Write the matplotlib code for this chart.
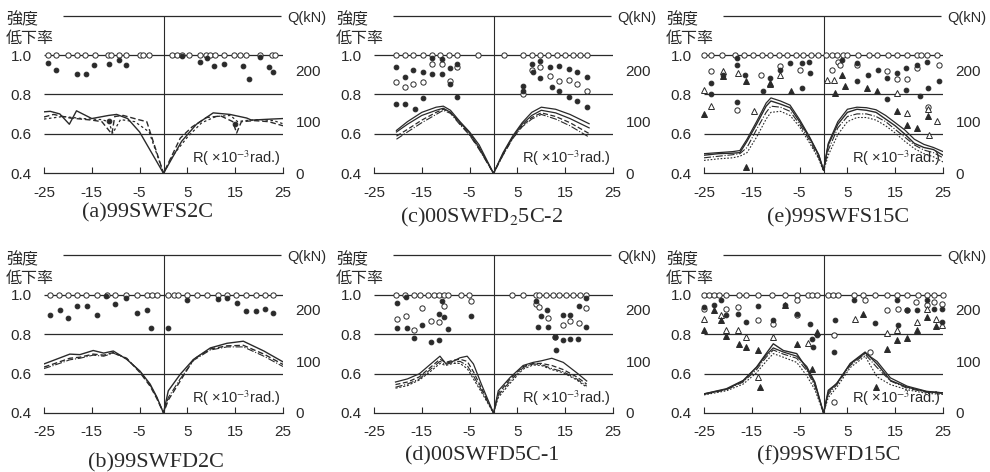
import matplotlib
matplotlib.use("Agg")
import matplotlib.pyplot as plt

plt.rcParams["font.family"] = ["Liberation Sans", "Noto Sans CJK JP", "DejaVu Sans"]
plt.rcParams["mathtext.fontset"] = "stix"

INK = "#2a2a2a"
Q_TOP = 229 / 0.6 * 0.8   # right axis: 0 kN at 0.4, ~229 kN at 1.0

XTICKS = [-25, -15, -5, 5, 15, 25]
YTICKS = [0.4, 0.6, 0.8, 1.0]
QTICKS = [0, 100, 200]
TITLES = ["(a)99SWFS2C", "(b)99SWFD2C", "(c)00SWFD$_2$5C-2",
          "(d)00SWFD5C-1", "(e)99SWFS15C", "(f)99SWFD15C"]

# ---- (a) 99SWFS2C
A_OPEN_X = [-24.2, -22.4, -20.0, -18.2, -16.5, -14.4, -11.6, -10.9, -9.3, -7.9, -4.9, -4.2, -3.0,
            1.7, 2.8, 3.8, 5.4, 7.7, 8.9, 9.8, 10.8, 12.6, 14.7, 15.9, 17.3, 20.1, 22.7, 23.4]
A_DOT_X = [-24.2, -22.4, -18.2, -16.3, -14.5, -11.4, -9.3, -7.9, 3.8, 7.7, 9.2, 10.5, 12.6,
           16.6, 17.8, 20.1, 22.0, 23.0, -11.4, 15.0]
A_DOT_Y = [0.961, 0.924, 0.903, 0.902, 0.949, 0.954, 0.975, 0.949, 0.995, 0.963, 0.983, 0.944,
           0.953, 0.944, 0.876, 0.992, 0.941, 0.915, 0.666, 0.649]
A_SOLID_X = [-25, -23.7, -21.7, -19.7, -18.2, -15, -11.5, -9.8, -7.5, -5, 0, 3.8, 6.9, 10.4,
             13.9, 17.4, 18.4, 22.6, 25]
A_SOLID_Q = [119, 120, 115, 95, 121, 106, 112, 114, 106, 80, 0, 62, 95, 117, 114, 107, 103, 105, 106]
A_DASH_X = [-25, -23, -19.5, -15, -12.9, -10.8, -10.2, -8.4, -5.3, -3.5, 0, 3.5, 6, 9, 12,
            14.5, 15.3, 16.3, 19, 22, 25]
A_DASH_Q = [109, 114, 107, 103, 100, 76, 110, 112, 104, 100, 0, 68, 90, 108, 111, 100, 78, 100,
            102, 100, 92]
A_DOTL_X = [-25, -21, -17, -13, -11.5, -10.6, -9, -6, -3, 0, 2, 5, 8, 11, 14, 15.5, 17, 20, 23, 25]
A_DOTL_Q = [105, 110, 106, 104, 100, 78, 104, 100, 80, 0, 35, 70, 98, 110, 112, 100, 102, 104, 102, 96]

# ---- (b) 99SWFD2C
B_OPEN_X = [-23.8, -21.9, -20.0, -18.1, -16.3, -14.0, -11.9, -10.2, -7.9, -5.6, -3.5, -2.5, -1.4,
            1.0, 2.1, 3.1, 4.9, 7.0, 9.2, 11.5, 13.3, 15.2, 17.3, 19.4, 21.3, 23.0]
B_DOT_X = [-23.8, -21.7, -20.0, -18.1, -16.1, -14.0, -12.1, -10.2, -7.9, -5.6, -3.5, -2.7, 1.0,
           4.9, 11.5, 13.3, 15.3, 17.3, 19.4, 21.3, 23.0]
B_DOT_Y = [0.897, 0.922, 0.88, 0.943, 0.943, 0.897, 0.993, 0.955, 0.983, 0.905, 0.922, 0.83,
           0.833, 0.972, 0.98, 0.983, 0.958, 0.917, 0.917, 0.927, 0.908]
B_LX = [-25, -23, -19.6, -17.5, -14.7, -12.5, -10.5, -7.7, -4.9, -2.8, -1.4, 0, 1.0, 3.5, 6.3,
        9.8, 13.3, 16.7, 21, 25]
B_Q1 = [95, 102, 114, 113, 121, 116, 120, 104, 81, 56, 31, 0, 43, 75, 104, 126, 135, 139, 120, 99]
B_Q2 = [89, 95, 106, 108, 114, 112, 117, 106, 78, 52, 28, 0, 25, 62, 104, 124, 130, 131, 114, 94]
B_Q3 = [86, 92, 103, 106, 112, 110, 116, 105, 80, 54, 30, 0, 30, 66, 102, 122, 128, 128, 110, 90]

# ---- (c) 00SWFD25C-2
C_OPEN_X = [-20.3, -18.5, -16.8, -14.8, -12.9, -11.2, -9.4, -7.7, -3.2, 2.2, 6.2, 8.0, 9.7,
            11.5, 13.2, 15.0, 16.7, 18.1, 19.5]
C_DOT_X = [-20.3, -18.5, -16.8, -14.8, -12.9, -12.9, -10.8, -10.8, -9.1, -7.7, -20.3, -18.5,
           -16.4, -14.7, -7.7, -9.1, 8.0, 9.7, 9.7, 11.8, 13.6, 15.7, 17.4, 19.5, 12.2, 13.8,
           15.7, 17.5, 19.5, 6.2, 6.2, 8.2]
C_DOT_Y = [0.94, 0.887, 0.923, 0.915, 0.903, 0.983, 0.978, 0.903, 0.932, 0.953, 0.75, 0.753,
           0.728, 0.783, 0.787, 0.853, 0.953, 0.97, 0.883, 0.937, 0.945, 0.928, 0.912, 0.887,
           0.837, 0.815, 0.787, 0.767, 0.737, 0.845, 0.82, 0.912]
C_RING_X = [-20.3, -18.5, -16.8, -14.8, -12.9, -10.8, -9.1, -7.7, 6.2, 8.0, 9.7, 11.8, 13.8,
            15.7, 17.5, 19.5]
C_RING_Y = [0.862, 0.837, 0.853, 0.862, 0.957, 0.957, 0.87, 0.937, 0.803, 0.925, 0.94, 0.895,
            0.87, 0.873, 0.853, 0.82]
C_LX = [-20.3, -18, -15, -12, -10.5, -9, -7, -5, -3, 0, 2, 4, 6, 8, 10, 13, 16, 20]
C_Q1 = [83, 100, 118, 128, 130, 122, 100, 80, 55, 0, 40, 72, 98, 118, 128, 124, 114, 96]
C_Q2 = [80, 95, 112, 122, 126, 118, 98, 78, 50, 0, 38, 70, 95, 112, 122, 117, 106, 88]
C_Q3 = [72, 85, 103, 118, 124, 118, 96, 75, 48, 0, 36, 68, 92, 108, 117, 110, 98, 77]
C_Q4 = [66, 80, 98, 114, 122, 116, 94, 74, 46, 0, 35, 67, 90, 105, 114, 105, 92, 70]

# ---- (d) 00SWFD5C-1
D_OPEN_X = [-20.5, -18.6, -16.7, -15.3, -13.8, -12.4, -11.4, -10.3, -9.6, -6.8, -5.1, 3.9, 6.1,
            8.9, 9.6, 11.0, 12.4, 13.8, 15.2, 16.6, 18.0, 19.4]
D_DOT_X = [-20.2, -18.4, -20.2, -18.2, -16.6, -14.9, -13.1, -11.5, -11.4, -10.7, -10.3, -9.6,
           -4.7, 8.9, 9.9, 11.2, 9.3, 11.4, 12.8, 13.1, 14.5, 14.5, 15.9, 16.1, 17.7, 17.9, 19.3, 19.4]
D_DOT_Y = [0.956, 0.987, 0.83, 0.83, 0.78, 0.844, 0.76, 0.90, 0.771, 0.97, 0.886, 0.827, 0.89,
           0.97, 0.894, 0.92, 0.835, 0.835, 0.785, 0.718, 0.897, 0.771, 0.897, 0.776, 0.776,
           0.945, 0.983, 0.835]
D_RING_X = [-20.2, -18.4, -16.7, -14.9, -13.1, -11.4, -10.3, -4.7, 8.9, 9.6, 11.4, 12.9, 14.5,
            16.1, 17.9, 19.4]
D_RING_Y = [0.877, 0.894, 0.822, 0.933, 0.869, 0.86, 0.945, 0.966, 0.953, 0.94, 0.88, 0.788,
            0.844, 0.869, 0.855, 0.933]
D_LX = [-20.5, -18, -15.5, -13.5, -11.2, -10, -8.5, -7, -5.5, -4.2, -2.5, 0, 1, 3.5, 6.2, 8.3,
        10, 12.2, 14.6, 17.4, 19.5]
D_Q1 = [60, 66, 76, 92, 110, 96, 100, 107, 110, 95, 55, 0, 43, 69, 92, 98, 101, 106, 98, 78, 62]
D_Q2 = [55, 60, 70, 86, 104, 98, 102, 104, 100, 80, 48, 0, 38, 66, 90, 96, 96, 92, 84, 70, 56]
D_Q3 = [50, 56, 66, 82, 100, 94, 98, 100, 92, 72, 44, 0, 34, 62, 88, 95, 94, 86, 80, 66, 52]
D_Q4 = [48, 53, 64, 78, 96, 92, 96, 96, 86, 66, 40, 0, 30, 58, 85, 93, 92, 84, 78, 64, 50]

# ---- (e) 99SWFS15C
E_OPEN_X = [-25, -23.6, -21.2, -18.6, -16.6, -14.7, -12.9, -11.2, -9.4, -7.6, -5.8, -4.2, -2.6,
            -1.2, 0.6, 1.8, 2.9, 4.1, 5.0, 7.3, 9.5, 11.2, 13.4, 15.3, 17.4, 19.5, 20.3, 21.6, 23.8]
E_DOT_X = [-23.5, -23.5, -21.0, -18.2, -18.2, -16.5, -18.2, -12.6, -11.2, -9.1, -7.0, -4.6, -4.6,
           -2.8, -3.0, 3.8, 7.0, 7.0, 9.4, 11.5, 13.3, 13.3, 15.4, 17.3, 17.3, 19.5, 20.2, 21.6,
           21.9, 24.1]
E_DOT_Y = [0.858, 0.80, 0.90, 0.95, 0.983, 0.90, 0.762, 0.82, 0.883, 0.925, 0.962, 0.962, 0.833,
           0.908, 0.967, 0.975, 0.958, 0.867, 0.90, 0.925, 0.883, 0.775, 0.908, 0.933, 0.822,
           0.95, 0.792, 0.967, 0.833, 0.867]
E_TRI_X = [-25, -21, -16.3, -16.3, -11.2, -6.9, 2.4, 3.8, 4.5, 9.1, 11.2, 15.4, 17.5, 19.5, 21.9]
E_TRI_Y = [0.70, 0.895, 0.867, 0.433, 0.858, 0.817, 0.808, 0.90, 0.842, 0.833, 0.82, 0.717,
           0.645, 0.628, 0.692]
E_OTRI_X = [-25, -23.5, -21, -17.9, -14.5, -11.2, -9.1, 0.7, 2.1, 15.4, 17.5, 21.9, 22.1, 23.7]
E_OTRI_Y = [0.822, 0.742, 0.917, 0.908, 0.717, 0.855, 0.90, 0.875, 0.875, 0.808, 0.708, 0.728,
            0.592, 0.667]
E_RING_X = [-23.5, -18.2, -13.0, -9.1, -4.9, 1.7, 3.1, 3.5, 7.0, 13.3, 15.4, 17.5, 19.5, 21.9, 24.1]
E_RING_Y = [0.917, 0.722, 0.90, 0.942, 0.925, 0.925, 0.967, 0.95, 0.95, 0.917, 0.878, 0.878,
            0.933, 0.738, 0.95]
E_LX = [-25, -22, -19, -17.5, -16, -14, -12, -11, -9, -7, -5, -3, -1, 0, 1, 3, 5, 7, 9, 11, 13,
        15, 17, 19, 21, 23, 25]
E_Q1 = [35, 38, 39, 40, 62, 95, 130, 140, 134, 127, 100, 70, 35, 6, 55, 95, 118, 124, 122, 118,
        105, 92, 76, 58, 50, 46, 35]
E_Q2 = [38, 40, 42, 44, 66, 100, 136, 146, 140, 132, 104, 72, 36, 6, 58, 100, 124, 128, 127, 123,
        112, 98, 84, 66, 56, 50, 42]
E_Q3 = [30, 33, 36, 38, 50, 85, 118, 130, 128, 120, 95, 65, 30, 6, 45, 88, 110, 115, 115, 110,
        100, 85, 70, 55, 45, 40, 30]
E_Q4 = [25, 28, 30, 33, 40, 70, 105, 118, 120, 112, 90, 60, 28, 4, 35, 75, 100, 108, 108, 103,
        92, 78, 62, 48, 38, 32, 22]

# ---- (f) 99SWFD15C
F_OPEN_X = [-25, -23.9, -23.0, -21.9, -20.3, -17.7, -16.3, -13.7, -10.7, -8.1, -5.6, -3.2, -2.5,
            -1.4, 1.0, 1.9, 3.1, 6.3, 8.3, 10.8, 13.3, 15.4, 17.5, 19.7, 21.7, 23.1, 25]
F_DOT_X = [-24.9, -23, -21.4, -20.3, -17.9, -16.3, -13.7, -10.5, -8.1, -5.6, -2.8, -2.5, -1.4,
           2.4, 2.1, 6.3, 10.8, 15.4, 15.5, 17.5, 19.6, 21.7, 23.1, 24.8, 24.8, -2.1]
F_DOT_Y = [0.937, 0.949, 0.971, 0.895, 0.904, 0.861, 0.941, 0.87, 0.946, 0.90, 0.853, 0.777,
           0.794, 0.87, 0.71, 0.975, 0.856, 0.971, 0.845, 0.92, 0.92, 0.971, 0.929, 0.929, 0.861, 0.735]
F_TRI_X = [-24.9, -23, -21.4, -20.3, -17.7, -16.3, -13.7, -13.3, -8.1, -5.6, -2.5, -1.4, 8.3,
           11.0, 13.3, 15.4, 17.5, 19.6, 21.7, 23.6]
F_TRI_Y = [0.823, 0.921, 0.87, 0.79, 0.752, 0.735, 0.718, 0.532, 0.946, 0.752, 0.625, 0.81,
           0.904, 0.532, 0.726, 0.768, 0.782, 0.819, 0.887, 0.84]
F_OTRI_X = [-24.9, -21.4, -20.3, -17.9, -16.3, -13.7, -10.5, -3.2, 6.6, 13.3, 15.4, 19.6, 21.7,
            23.6, 24.8]
F_OTRI_Y = [0.878, 0.895, 0.819, 0.819, 0.785, 0.583, 0.785, 0.755, 0.878, 0.806, 0.819, 0.861,
            0.929, 0.878, 0.845]
F_RING_X = [-24.9, -20.3, -17.9, -13.7, -10.5, -5.6, -5.6, 2.1, 8.7, 9.8, 13.3, 15.5, 17.5, 19.4,
            21.7, 23.1, 24.8, 2.1]
F_RING_Y = [0.929, 0.929, 0.937, 0.87, 0.853, 0.971, 0.895, 0.794, 0.971, 0.71, 0.92, 0.929, 0.92,
            0.963, 0.946, 0.963, 0.954, 0.456]
F_LX = [-25, -20.3, -16.8, -14, -12, -10.5, -8.4, -5.6, -3.5, -1.8, 0, 1, 2.8, 5.6, 8.7, 11.2,
        14, 17.5, 21.6, 25]
F_Q1 = [37, 47, 63, 89, 115, 134, 121, 115, 86, 57, 0, 44, 57, 96, 118, 95, 63, 50, 41, 39]
F_Q2 = [37, 46, 62, 88, 112, 126, 118, 110, 90, 60, 0, 40, 58, 95, 116, 100, 68, 52, 42, 39]
F_Q3 = [36, 45, 60, 84, 108, 122, 114, 106, 82, 52, 0, 36, 55, 92, 114, 88, 62, 48, 40, 38]
F_Q4 = [35, 43, 56, 78, 100, 115, 108, 98, 72, 45, 0, 30, 50, 88, 110, 70, 55, 45, 38, 36]

W, H = 990, 472
fig = plt.figure(figsize=(W / 100, H / 100), dpi=100)
fig.patch.set_facecolor("white")

COL_LEFT = [44, 374, 704]          # px, left edge of each axes
ROW_BOT = [173.3, 413]             # px from top, y=0.4 line
AX_W, AX_H = 239, 157.7


def panel(col, row, title, title_xy, open_x, dot_x, dot_y, lines,
          ring=None, tri=None, otri=None):
    ax = fig.add_axes([COL_LEFT[col] / W, 1 - ROW_BOT[row] / H, AX_W / W, AX_H / H])
    ax.set_xlim(-25, 25)
    ax.set_ylim(0.4, 1.2)
    for s in ["top", "left", "right"]:
        ax.spines[s].set_visible(False)
    ax.spines["bottom"].set_color(INK)
    ax.spines["bottom"].set_linewidth(0.9)
    ax.set_xticks(XTICKS)
    ax.set_xticklabels([str(t) for t in XTICKS])
    ax.set_yticks(YTICKS)
    ax.set_yticklabels([f"{t:.1f}" for t in YTICKS])
    ax.tick_params(axis="x", direction="in", length=4, width=0.8, color=INK,
                   labelsize=11, pad=9, labelcolor=INK)
    ax.tick_params(axis="y", length=0, labelsize=11, pad=9, labelcolor=INK)

    ax.hlines([0.6, 0.8, 1.0], -25, 25, color=INK, lw=0.9, zorder=1)
    ax.hlines(1.2, -21, 24.5, color=INK, lw=0.9, clip_on=False, zorder=1)
    ax.vlines(0, 0.4, 1.2, color=INK, lw=0.8, clip_on=False, zorder=1)

    mk = dict(ls="none", clip_on=False, zorder=3, mew=0.7)
    ax.plot(open_x, [1.0] * len(open_x), marker="o", ms=3.8, mfc="white", mec=INK, **mk)
    if ring is not None:
        ax.plot(ring[0], ring[1], marker="o", ms=3.8, mfc="white", mec=INK, **mk)
    if otri is not None:
        ax.plot(otri[0], otri[1], marker="^", ms=4.0, mfc="white", mec=INK, **mk)
    if tri is not None:
        ax.plot(tri[0], tri[1], marker="^", ms=4.0, mfc=INK, mec=INK, **mk)
    ax.plot(dot_x, dot_y, marker="o", ms=3.4, mfc=INK, mec=INK, **mk)

    tw = ax.twinx()
    tw.set_ylim(0, Q_TOP)
    for s in tw.spines.values():
        s.set_visible(False)
    tw.set_yticks(QTICKS)
    tw.set_yticklabels([str(t) for t in QTICKS])
    tw.tick_params(axis="y", length=0, labelsize=11, pad=9, labelcolor=INK)
    for x, q, ls, lw in lines:
        tw.plot(x, q, color=INK, ls=ls, lw=lw, zorder=2)

    ax.text(24.5, 0.425, "R( \u00d710$^{-3}$rad.)", ha="right", va="bottom",
            fontsize=10.5, color=INK, zorder=5)
    ax.text(1.018, 1.19, "Q(kN)", transform=ax.get_yaxis_transform(),
            ha="left", va="center", fontsize=10.5, color=INK)
    top_px = ROW_BOT[row] - AX_H
    fig.text((COL_LEFT[col] - 38) / W, 1 - (top_px - 4) / H, "強度\n低下率",
             ha="left", va="top", fontsize=11.5, linespacing=1.1, color=INK,
             family=["Noto Sans CJK JP"])
    fig.text(title_xy[0] / W, 1 - title_xy[1] / H, title, ha="center", va="center",
             fontsize=16, family="Liberation Serif", color=INK)


panel(0, 0, TITLES[0], (148, 213), A_OPEN_X, A_DOT_X, A_DOT_Y,
      [(A_SOLID_X, A_SOLID_Q, "-", 1.0), (A_DASH_X, A_DASH_Q, (0, (4, 2)), 1.0),
       (A_DOTL_X, A_DOTL_Q, (0, (2, 2)), 0.9)])
panel(0, 1, TITLES[1], (156, 463), B_OPEN_X, B_DOT_X, B_DOT_Y,
      [(B_LX, B_Q1, "-", 1.0), (B_LX, B_Q2, (0, (4, 2)), 1.0), (B_LX, B_Q3, "-.", 0.8)])
panel(1, 0, TITLES[2], (482, 217), C_OPEN_X, C_DOT_X, C_DOT_Y,
      [(C_LX, C_Q1, "-", 0.9), (C_LX, C_Q2, "-", 0.9), (C_LX, C_Q3, (0, (4, 2)), 0.9),
       (C_LX, C_Q4, "-.", 0.8)], ring=(C_RING_X, C_RING_Y))
panel(1, 1, TITLES[3], (482, 456), D_OPEN_X, D_DOT_X, D_DOT_Y,
      [(D_LX, D_Q1, "-", 0.9), (D_LX, D_Q2, (0, (4, 2)), 0.9), (D_LX, D_Q3, "-.", 0.8),
       (D_LX, D_Q4, (0, (2, 1.5)), 0.8)], ring=(D_RING_X, D_RING_Y))
panel(2, 0, TITLES[4], (838, 218), E_OPEN_X, E_DOT_X, E_DOT_Y,
      [(E_LX, E_Q2, "-", 0.9), (E_LX, E_Q1, "-", 1.0), (E_LX, E_Q3, "-.", 0.8),
       (E_LX, E_Q4, (0, (1.5, 1.5)), 0.8)],
      ring=(E_RING_X, E_RING_Y), tri=(E_TRI_X, E_TRI_Y), otri=(E_OTRI_X, E_OTRI_Y))
panel(2, 1, TITLES[5], (829, 456), F_OPEN_X, F_DOT_X, F_DOT_Y,
      [(F_LX, F_Q1, "-", 1.0), (F_LX, F_Q2, "-", 0.9), (F_LX, F_Q3, "-.", 0.8),
       (F_LX, F_Q4, (0, (1.5, 1.5)), 0.8)],
      ring=(F_RING_X, F_RING_Y), tri=(F_TRI_X, F_TRI_Y), otri=(F_OTRI_X, F_OTRI_Y))

fig.savefig("out.png", dpi=100, facecolor="white")
